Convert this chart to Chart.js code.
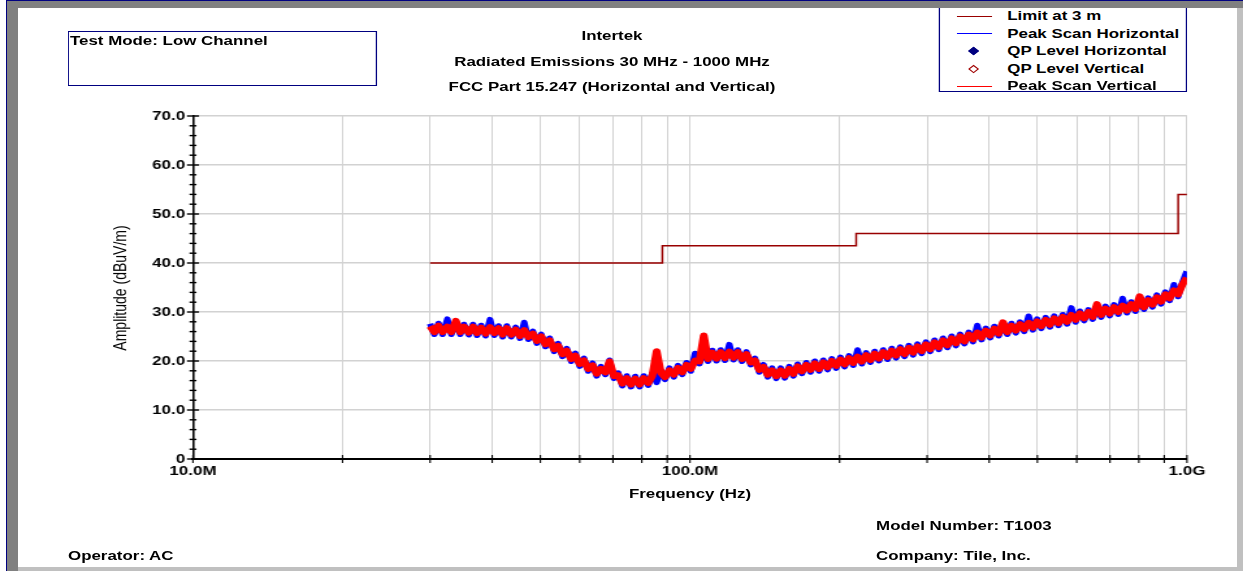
<!DOCTYPE html>
<html>
<head>
<meta charset="utf-8">
<title>Radiated Emissions 30 MHz - 1000 MHz</title>
<script src="https://cdn.jsdelivr.net/npm/chart.js@4.4.1/dist/chart.umd.min.js"></script>
<style>
    html, body {
        margin: 0;
        padding: 0;
        width: 1243px;
        height: 571px;
        overflow: hidden;
        background: #fff;
        font-family: "Liberation Sans", Arial, sans-serif;
    }
    /* the original plot is a 956px wide page stretched to 1243px */
    #stage {
        position: absolute;
        left: 0;
        top: 0;
        width: 956px;
        height: 571px;
        transform: scaleX(1.30021);
        transform-origin: 0 0;
    }
    #stage canvas { position: absolute; left: 0; top: 0; }
    .txt {
        position: absolute;
        font-size: 13px;
        font-weight: bold;
        line-height: 16px;
        color: #000;
        white-space: nowrap;
    }
    .center { text-align: center; width: 400px; }
    .box {
        position: absolute;
        border: 1px solid #000080;
        background: #fff;
    }
    #testMode { left: 52.3px; top: 31px; width: 236.2px; height: 53px; }
    #testMode .txt { left: 0.5px; top: 1px; }
    #legend { left: 721.5px; top: 7px; width: 189px; height: 83px; }
    .legend-line { position: absolute; left: 13px; width: 27px; height: 1px; }
    .legend-mark {
        position: absolute;
        left: 23.2px;
        width: 5.6px;
        height: 5.6px;
        transform: rotate(45deg);
        box-sizing: border-box;
    }
    .legend-label { left: 52.2px; }
    #yTitle {
        left: -7.7px;
        top: 280px;
        width: 200px;
        text-align: center;
        font-weight: normal;
        font-size: 14px;
        transform: rotate(-90deg);
    }
    .frame { position: absolute; }
</style>
</head>
<body>

<div id="stage">
    <canvas id="emissions" width="956" height="571"></canvas>

    <div class="box" id="testMode"><div class="txt">Test Mode: Low Channel</div></div>

    <div class="txt center" style="left:270.7px; top:28px;">Intertek</div>
    <div class="txt center" style="left:270.7px; top:54px;">Radiated Emissions 30 MHz - 1000 MHz</div>
    <div class="txt center" style="left:270.7px; top:79px;">FCC Part 15.247 (Horizontal and Vertical)</div>

    <div class="box" id="legend"></div>

    <div class="txt" id="yTitle">Amplitude (dBuV/m)</div>
    <div class="txt center" style="left:330.7px; top:486px;">Frequency (Hz)</div>

    <div class="txt" style="left:673.8px; top:518px;">Model Number: T1003</div>
    <div class="txt" style="left:673.8px; top:548px;">Company: Tile, Inc.</div>
    <div class="txt" style="left:52.3px; top:548px;">Operator: AC</div>
</div>

<!-- window bevel round the plot -->
<div class="frame" style="left:6px; top:0; width:1237px; height:1px; background:#000080;"></div>
<div class="frame" style="left:6px; top:0; width:1px; height:571px; background:#000080;"></div>
<div class="frame" style="left:7px; top:1px; width:1236px; height:7px; background:#808080;"></div>
<div class="frame" style="left:7px; top:1px; width:11px; height:570px; background:#808080;"></div>
<div class="frame" style="left:1237px; top:8px; width:6px; height:563px; background:#c0c0c0;"></div>
<div class="frame" style="left:18px; top:567px; width:1225px; height:4px; background:#c0c0c0;"></div>

<script>
// ---- data (frequency in MHz, level in dBuV/m) ----
const scanFreqMHz = [
    30.0, 30.6, 31.2, 31.8, 32.5, 33.1, 33.8, 34.5, 35.1, 35.9,
    36.6, 37.3, 38.0, 38.8, 39.6, 40.4, 41.2, 42.0, 42.8, 43.7,
    44.6, 45.5, 46.4, 47.3, 48.3, 49.2, 50.2, 51.2, 52.2, 53.3,
    54.3, 55.4, 56.5, 57.7, 58.8, 60.0, 61.2, 62.4, 63.7, 64.9,
    66.2, 67.6, 68.9, 70.3, 71.7, 73.1, 74.6, 76.1, 77.6, 79.2,
    80.7, 82.4, 84.0, 85.7, 87.4, 89.1, 90.9, 92.8, 94.6, 96.5,
    98.4, 100.4, 102.4, 104.5, 106.6, 108.7, 110.9, 113.1, 115.3, 117.6,
    120.0, 122.4, 124.8, 127.3, 129.9, 132.5, 135.1, 137.8, 140.6, 143.4,
    146.3, 149.2, 152.2, 155.2, 158.4, 161.5, 164.7, 168.0, 171.4, 174.8,
    178.3, 181.9, 185.5, 189.2, 193.0, 196.9, 200.8, 204.8, 208.9, 213.1,
    217.4, 221.7, 226.2, 230.7, 235.3, 240.0, 244.8, 249.7, 254.7, 259.8,
    265.0, 270.3, 275.7, 281.2, 286.9, 292.6, 298.4, 304.4, 310.5, 316.7,
    323.0, 329.5, 336.1, 342.8, 349.7, 356.7, 363.8, 371.1, 378.5, 386.1,
    393.8, 401.7, 409.7, 417.9, 426.3, 434.8, 443.5, 452.4, 461.4, 470.6,
    480.1, 489.7, 499.4, 509.4, 519.6, 530.0, 540.6, 551.4, 562.5, 573.7,
    585.2, 596.9, 608.8, 621.0, 633.4, 646.1, 659.0, 672.2, 685.6, 699.3,
    713.3, 727.6, 742.2, 757.0, 772.2, 787.6, 803.4, 819.4, 835.8, 852.5,
    869.6, 887.0, 904.7, 922.8, 941.3, 960.1, 979.3, 998.9
];

const peakScanHorizontal = [
    27.6, 25.4, 27.7, 25.4, 28.6, 25.4, 27.7, 25.4, 27.5, 25.3,
    27.5, 25.2, 27.3, 25.1, 28.5, 25.2, 27.2, 24.9, 27.2, 24.9,
    26.9, 24.6, 27.9, 24.4, 26.1, 23.6, 25.5, 22.9, 24.7, 21.9,
    23.6, 20.9, 22.6, 19.9, 21.6, 18.9, 20.6, 17.9, 19.6, 16.9,
    18.9, 17.2, 20.2, 16.4, 17.6, 14.9, 17.0, 14.7, 16.9, 14.7,
    17.0, 15.0, 17.5, 15.6, 18.1, 16.2, 18.6, 16.7, 19.1, 17.2,
    19.7, 17.9, 21.6, 19.4, 22.1, 19.9, 22.2, 20.0, 22.3, 20.1,
    23.4, 20.2, 22.3, 19.9, 21.9, 19.2, 20.6, 17.7, 19.3, 16.7,
    18.6, 16.4, 18.6, 16.5, 18.9, 16.9, 19.4, 17.4, 19.7, 17.7,
    20.0, 17.9, 20.2, 18.2, 20.5, 18.5, 20.8, 18.8, 21.1, 19.1,
    22.3, 19.4, 21.7, 19.7, 22.0, 20.0, 22.3, 20.3, 22.6, 20.6,
    22.9, 20.9, 23.2, 21.2, 23.5, 21.5, 23.9, 21.9, 24.3, 22.3,
    24.7, 22.7, 25.1, 23.1, 25.5, 23.5, 25.9, 23.9, 27.3, 24.3,
    26.7, 24.7, 27.1, 25.1, 27.4, 25.4, 27.7, 25.7, 28.0, 26.0,
    29.2, 26.3, 28.6, 26.6, 28.9, 26.9, 29.2, 27.2, 29.5, 27.5,
    30.9, 27.9, 30.2, 28.2, 30.5, 28.5, 30.9, 28.9, 31.2, 29.2,
    31.5, 29.5, 32.8, 29.8, 32.1, 30.1, 32.5, 30.5, 32.9, 31.0,
    33.5, 31.6, 34.1, 32.3, 35.6, 33.1, 36.1, 38.3
];

const peakScanVertical = [
    27.1, 25.9, 27.2, 25.9, 27.0, 25.9, 28.2, 25.9, 27.0, 25.8,
    27.0, 25.7, 26.8, 25.6, 26.9, 25.7, 26.7, 25.4, 26.7, 25.4,
    26.4, 25.1, 26.3, 24.9, 25.6, 24.1, 25.0, 23.4, 24.2, 22.4,
    23.1, 21.4, 22.1, 20.4, 21.1, 19.4, 20.1, 18.4, 19.1, 17.4,
    18.4, 17.7, 19.9, 16.9, 17.1, 15.4, 16.5, 15.2, 16.4, 15.2,
    16.5, 15.5, 17.0, 22.0, 17.6, 16.7, 18.1, 17.2, 18.6, 17.7,
    19.2, 18.4, 20.1, 19.9, 25.2, 20.4, 21.7, 20.5, 21.8, 20.6,
    21.9, 20.7, 21.8, 20.4, 21.4, 19.7, 20.1, 18.2, 18.8, 17.2,
    18.1, 16.9, 18.1, 17.0, 18.4, 17.4, 18.9, 17.9, 19.2, 18.2,
    19.5, 18.4, 19.7, 18.7, 20.0, 19.0, 20.3, 19.3, 20.6, 19.6,
    20.9, 19.9, 21.2, 20.2, 21.5, 20.5, 21.8, 20.8, 22.1, 21.1,
    22.4, 21.4, 22.7, 21.7, 23.0, 22.0, 23.4, 22.4, 23.8, 22.8,
    24.2, 23.2, 24.6, 23.6, 25.0, 24.0, 25.4, 24.4, 25.8, 24.8,
    26.2, 25.2, 26.6, 25.6, 27.9, 25.9, 27.2, 26.2, 27.5, 26.5,
    27.8, 26.8, 28.1, 27.1, 28.4, 27.4, 28.7, 27.7, 29.0, 28.0,
    29.4, 28.4, 29.7, 28.7, 30.0, 29.0, 31.6, 29.4, 30.7, 29.7,
    31.0, 30.0, 31.3, 30.3, 31.6, 30.6, 33.2, 31.0, 32.4, 31.5,
    33.0, 32.1, 33.6, 32.8, 34.4, 33.6, 35.6, 37.0
];

// FCC 15.209 limit at 3 m, steps at 88, 216 and 960 MHz
const limitFreqMHz = [30, 88, 216, 960, 1000];
const limitLevel = [40, 43.5, 46, 54, 54];

// no quasi-peak measurements were plotted
const qpHorizontal = [];
const qpVertical = [];

const xTickValues = [10, 20, 30, 40, 50, 60, 70, 80, 90, 100, 200, 300, 400, 500, 600, 700, 800, 900, 1000];
const xTickLabels = ['10.0M', '', '', '', '', '', '', '', '', '100.0M', '', '', '', '', '', '', '', '', '1.0G'];
const yTickValues = [0, 10, 20, 30, 40, 50, 60, 70];
const yTickLabels = ['0', '10.0', '20.0', '30.0', '40.0', '50.0', '60.0', '70.0'];

// ---- helpers ----
function toPoints(xs, ys) {
    return xs.map((x, i) => ({ x: x, y: ys[i] }));
}

const tickFont = { family: '"Liberation Sans", Arial, sans-serif', size: 13, weight: 'bold' };

// crossing tick marks on both axes (major every 10 dB, minor every 2 dB)
const axisTickMarks = {
    id: 'axisTickMarks',
    afterDraw(chart) {
        const { ctx, scales: { x, y } } = chart;
        ctx.save();
        ctx.strokeStyle = '#000';
        ctx.lineWidth = 1.4;
        y.ticks.forEach(t => {
            const py = y.getPixelForValue(t.value);
            const len = yTickValues.includes(t.value) ? 4.6 : 2.7;
            ctx.beginPath();
            ctx.moveTo(x.left - len, py);
            ctx.lineTo(x.left + len, py);
            ctx.stroke();
        });
        ctx.lineWidth = 1.1;
        x.ticks.forEach(t => {
            const px = x.getPixelForValue(t.value);
            ctx.beginPath();
            ctx.moveTo(px, y.bottom - 4);
            ctx.lineTo(px, y.bottom + 4);
            ctx.stroke();
        });
        ctx.restore();
    }
};

const ctx = document.getElementById('emissions').getContext('2d');

const chart = new Chart(ctx, {
    type: 'line',
    data: {
        datasets: [
            {
                label: 'Limit at 3 m',
                data: toPoints(limitFreqMHz, limitLevel),
                borderColor: '#990000',
                borderWidth: 1.5,
                stepped: 'before',
                pointRadius: 0,
                order: 0
            },
            {
                label: 'Peak Scan Horizontal',
                data: toPoints(scanFreqMHz, peakScanHorizontal),
                borderColor: '#0000ff',
                borderWidth: 5,
                borderJoinStyle: 'round',
                pointRadius: 0,
                order: 2
            },
            {
                label: 'QP Level Horizontal',
                data: toPoints([], qpHorizontal),
                showLine: false,
                pointStyle: 'rectRot',
                pointRadius: 4,
                backgroundColor: '#000080',
                borderColor: '#000080',
                order: 0
            },
            {
                label: 'QP Level Vertical',
                data: toPoints([], qpVertical),
                showLine: false,
                pointStyle: 'rectRot',
                pointRadius: 4,
                backgroundColor: '#ffffff',
                borderColor: '#a00000',
                order: 0
            },
            {
                label: 'Peak Scan Vertical',
                data: toPoints(scanFreqMHz, peakScanVertical),
                borderColor: '#ff0000',
                borderWidth: 6,
                borderJoinStyle: 'round',
                pointRadius: 0,
                order: 1
            }
        ]
    },
    options: {
        responsive: false,
        devicePixelRatio: 1,
        animation: false,
        layout: {
            padding: { top: 116, right: 43.1, bottom: 0, left: 0 }
        },
        plugins: {
            legend: { display: false },
            title: { display: false },
            tooltip: { enabled: false }
        },
        scales: {
            x: {
                type: 'logarithmic',
                min: 10,
                max: 1000,
                afterBuildTicks: (scale) => {
                    scale.ticks = xTickValues.map(v => ({ value: v }));
                },
                afterFit: (scale) => { scale.height = 112; },
                ticks: {
                    autoSkip: false,
                    maxRotation: 0,
                    padding: 5,
                    color: '#000',
                    font: tickFont,
                    callback: (value) => {
                        const i = xTickValues.indexOf(value);
                        return i >= 0 ? xTickLabels[i] : '';
                    }
                },
                grid: {
                    color: '#d2d2d2',
                    lineWidth: 1,
                    drawTicks: false
                },
                border: { display: true, color: '#000', width: 2 }
            },
            y: {
                min: 0,
                max: 70,
                afterFit: (scale) => { scale.width = 148.4; },
                ticks: {
                    stepSize: 2,
                    autoSkip: false,
                    padding: 6,
                    color: '#000',
                    font: tickFont,
                    callback: (value) => {
                        const i = yTickValues.indexOf(value);
                        return i >= 0 ? yTickLabels[i] : '';
                    }
                },
                grid: {
                    color: (c) => (c.tick && yTickValues.includes(c.tick.value) && c.tick.value !== 0) ? '#d2d2d2' : 'rgba(0,0,0,0)',
                    lineWidth: 1.5,
                    drawTicks: false
                },
                border: { display: true, color: '#000', width: 1.6 }
            }
        }
    },
    plugins: [axisTickMarks]
});

// ---- legend box, built from the datasets ----
const legendBox = document.getElementById('legend');
const legendRowCenters = [8, 25.5, 43, 60.5, 78];
chart.data.datasets.forEach((ds, i) => {
    const cy = legendRowCenters[i];
    if (ds.showLine === false) {
        const mark = document.createElement('div');
        mark.className = 'legend-mark';
        mark.style.top = (cy - 2.8) + 'px';
        mark.style.background = ds.backgroundColor;
        mark.style.border = '1.3px solid ' + ds.borderColor;
        legendBox.appendChild(mark);
    } else {
        const line = document.createElement('div');
        line.className = 'legend-line';
        line.style.top = Math.round(cy - 0.5) + 'px';
        line.style.background = ds.borderColor;
        legendBox.appendChild(line);
    }
    const label = document.createElement('div');
    label.className = 'txt legend-label';
    label.style.top = (cy - 8) + 'px';
    label.textContent = ds.label;
    legendBox.appendChild(label);
});
</script>
</body>
</html>
